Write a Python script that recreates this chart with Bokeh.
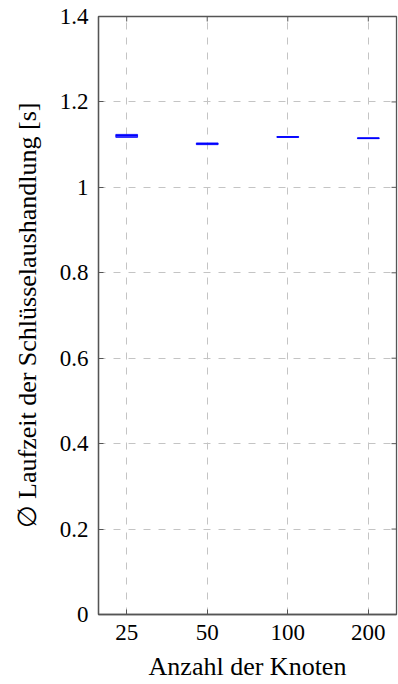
import math
from bokeh.plotting import figure
from bokeh.models import FixedTicker, Range1d, ColumnDataSource
from bokeh.embed import file_html
from bokeh.resources import INLINE

# ---- data ----
categories = ["25", "50", "100", "200"]
q1 = [1.117, 1.100, 1.117, 1.114]
median = [1.121, 1.102, 1.118, 1.115]
q3 = [1.124, 1.104, 1.119, 1.116]
y_ticks = [0, 0.2, 0.4, 0.6, 0.8, 1.0, 1.2, 1.4]
y_tick_labels = ["0", "0.2", "0.4", "0.6", "0.8", "1", "1.2", "1.4"]
x_label = "Anzahl der Knoten"
y_label = "\u2205 Laufzeit der Schl\u00fcsselaushandlung [s]"

FONT = "'Liberation Serif', 'Times New Roman', serif"
AXC = "#555555"
GRIDC = "#c4c4c4"

xs = list(range(len(categories)))
half = 0.135
src = ColumnDataSource(dict(
    x=xs,
    left=[x - half for x in xs],
    right=[x + half for x in xs],
    q1=q1, q3=q3, med=median,
))

x_min, x_max = -0.35, len(categories) - 1 + 0.35
y_min, y_max = 0, 1.4

p = figure(frame_width=298, frame_height=598,
           x_range=Range1d(x_min, x_max), y_range=Range1d(y_min, y_max),
           output_backend="svg", toolbar_location=None,
           min_border_left=98, min_border_right=2,
           min_border_top=16, min_border_bottom=60)

p.background_fill_color = "white"
p.border_fill_color = "white"
p.outline_line_color = AXC
p.outline_line_width = 1.3

# axes
p.xaxis.ticker = FixedTicker(ticks=xs)
p.xaxis.major_label_overrides = {x: c for x, c in zip(xs, categories)}
p.yaxis.ticker = FixedTicker(ticks=y_ticks)
p.yaxis.major_label_overrides = {t: l for t, l in zip(y_ticks, y_tick_labels)}

for ax in (p.xaxis, p.yaxis):
    ax.axis_line_color = AXC
    ax.axis_line_width = 1.3
    ax.major_tick_in = 5
    ax.major_tick_out = 0
    ax.major_tick_line_color = AXC
    ax.minor_tick_line_color = None
    ax.major_label_text_font = FONT
    ax.major_label_text_font_size = "23px"
    ax.major_label_text_color = "black"
    ax.axis_label_text_font = FONT
    ax.axis_label_text_font_size = "26px"
    ax.axis_label_text_font_style = "normal"
    ax.axis_label_text_color = "black"

p.xaxis.axis_label = x_label
p.yaxis.axis_label = y_label
p.xaxis.major_label_standoff = 10
p.xaxis.axis_label_standoff = 9
p.yaxis.major_label_standoff = 10
p.yaxis.axis_label_standoff = 15

# grid
for g in (p.xgrid, p.ygrid):
    g.grid_line_color = GRIDC
    g.grid_line_dash = "7 8"
    g.grid_line_width = 1

# mirrored ticks on top and right
p.ray(x=xs, y=[y_max] * len(xs), length=5, length_units="screen",
      angle=-math.pi / 2, line_color=AXC, line_width=1)
p.ray(x=[x_max] * len(y_ticks), y=y_ticks, length=5, length_units="screen",
      angle=math.pi, line_color=AXC, line_width=1)

# boxes
p.quad(left="left", right="right", bottom="q1", top="q3", source=src,
       fill_color="#0000ff", fill_alpha=0.6, line_color="#0000ff",
       line_alpha=0.8, line_width=1)
p.segment(x0="left", x1="right", y0="med", y1="med", source=src,
          line_color="#0000ff", line_width=1.6)

open("out.html", "w").write(file_html(p, INLINE))
